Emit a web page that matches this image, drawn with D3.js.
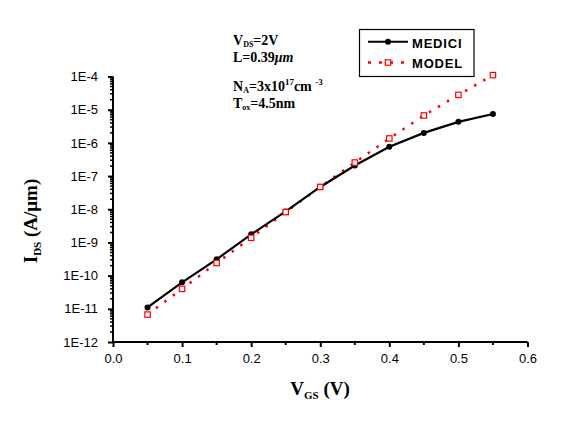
<!DOCTYPE html>
<html><head><meta charset="utf-8">
<script src="https://cdn.jsdelivr.net/npm/d3@7"></script>
<style>body{margin:0;background:#fff}svg{display:block}</style>
</head><body>
<script>
const vgs = [0.05,0.10,0.15,0.20,0.25,0.30,0.35,0.40,0.45,0.50,0.55];
const medici = [1.1e-11,6.3e-11,3.1e-10,1.75e-9,8.6e-9,4.7e-8,2.07e-7,7.6e-7,2.0e-6,4.3e-6,7.4e-6];
const model = [6.7e-12,4.0e-11,2.4e-10,1.38e-9,8.2e-9,4.7e-8,2.56e-7,1.36e-6,6.7e-6,2.8e-5,1.1e-4];
const xTicks = [0,0.1,0.2,0.3,0.4,0.5,0.6];
const yExps = [-12,-11,-10,-9,-8,-7,-6,-5,-4];

const W=567,H=430;
const svg=d3.select("body").append("svg").attr("width",W).attr("height",H);
const x=d3.scaleLinear().domain([0,0.6]).range([113,527.5]);
const y=d3.scaleLog().domain([1e-12,1e-4]).range([342,76.5]);

// axes
const xAxis=d3.axisBottom(x).tickValues(xTicks).tickFormat(d3.format(".1f")).tickSize(5).tickPadding(7);
const gx=svg.append("g").attr("transform","translate(0,342)").call(xAxis);
gx.selectAll(".tick").append("line").attr("y2",0);
// minor x
svg.append("g").selectAll("line").data(d3.range(0.05,0.6,0.1)).join("line")
  .attr("x1",d=>x(d)).attr("x2",d=>x(d)).attr("y1",342).attr("y2",345).attr("stroke","#000").attr("stroke-width",2);

const yAxis=d3.axisLeft(y).tickValues(yExps.map(e=>Math.pow(10,e))).tickFormat(d=>"1E"+Math.round(Math.log10(d))).tickSize(5).tickPadding(10);
const gy=svg.append("g").attr("transform","translate(113,0)").call(yAxis);
// minor y
const minors=[];
yExps.slice(0,-1).forEach(e=>{for(let k=2;k<=9;k++)minors.push(k*Math.pow(10,e));});
svg.append("g").selectAll("line").data(minors).join("line")
  .attr("x1",110).attr("x2",113).attr("y1",d=>y(d)).attr("y2",d=>y(d)).attr("stroke","#000").attr("stroke-width",1.5);

[gx,gy].forEach(g=>{
  g.select(".domain").attr("stroke-width",2).attr("stroke","#000");
  g.selectAll(".tick line").attr("stroke-width",2).attr("stroke","#000");
  g.selectAll(".tick text").attr("font-family","Liberation Sans, Arial, sans-serif").attr("font-size",13).attr("fill","#000");
});
gx.select(".domain").attr("d","M113,0H527.5");
gy.select(".domain").attr("d","M0,76.5V342");

// model dotted line
const pts=vgs.map((v,i)=>({x:v,m:medici[i],o:model[i]}));
svg.append("path").datum(pts).attr("fill","none").attr("stroke","#ff0000").attr("stroke-width",2.5)
  .attr("stroke-dasharray","2.5,8")
  .attr("d",d3.line().x(d=>x(d.x)).y(d=>y(d.o)));
// medici line
svg.append("path").datum(pts).attr("fill","none").attr("stroke","#000").attr("stroke-width",2.2)
  .attr("d",d3.line().x(d=>x(d.x)).y(d=>y(d.m)));
svg.append("g").selectAll("circle").data(pts).join("circle")
  .attr("cx",d=>x(d.x)).attr("cy",d=>y(d.m)).attr("r",3).attr("fill","#000");
svg.append("g").selectAll("rect").data(pts).join("rect")
  .attr("x",d=>x(d.x)-2.7).attr("y",d=>y(d.o)-2.7).attr("width",5.4).attr("height",5.4)
  .attr("fill","#fff").attr("stroke","#ff0000").attr("stroke-width",1.2);

// legend
const lg=svg.append("g");
lg.append("rect").attr("x",359.5).attr("y",29.5).attr("width",114.5).attr("height",47).attr("fill","#fff").attr("stroke","#000").attr("stroke-width",1.2);
lg.append("line").attr("x1",368).attr("x2",408).attr("y1",41.7).attr("y2",41.7).attr("stroke","#000").attr("stroke-width",2);
lg.append("circle").attr("cx",388).attr("cy",41.7).attr("r",3).attr("fill","#000");
lg.append("line").attr("x1",368).attr("x2",408).attr("y1",62.5).attr("y2",62.5).attr("stroke","#ff0000").attr("stroke-width",2.5).attr("stroke-dasharray","3,8");
lg.append("rect").attr("x",385.3).attr("y",59.8).attr("width",5.4).attr("height",5.4).attr("fill","#fff").attr("stroke","#ff0000").attr("stroke-width",1.2);
const lf="Liberation Sans, Arial, sans-serif";
lg.append("text").attr("x",412).attr("y",47.5).attr("font-family",lf).attr("font-weight","bold").attr("font-size",13).attr("letter-spacing",0.8).text("MEDICI");
lg.append("text").attr("x",412).attr("y",68).attr("font-family",lf).attr("font-weight","bold").attr("font-size",13).attr("letter-spacing",0.8).text("MODEL");

// annotations
const tf="Liberation Serif, Times New Roman, serif";
function ann(yy, parts){
  const t=svg.append("text").attr("x",233).attr("y",yy).attr("font-family",tf).attr("font-weight","bold").attr("font-size",14);
  parts.forEach(p=>{
    const s=t.append("tspan").text(p[0]);
    if(p[1]==="sub")s.attr("font-size",8).attr("dy",2);
    else if(p[1]==="sup")s.attr("font-size",9).attr("dy",-6);
    if(p[2])s.attr("dy",p[2]);
  });
}
ann(45,[["V"],["DS","sub"],["=2V",null,-2]]);
ann(62,[["L=0.39"],["μm","it"]]);
svg.selectAll("text tspan").filter(function(){return this.textContent==="μm";}).attr("font-style","italic");
ann(91,[["N"],["A","sub"],["=3x10",null,-2],["17","sup"],["cm ",null,6],["-3","sup"]]);
ann(108,[["T"],["ox","sub"],["=4.5nm",null,-2]]);

// axis titles
const xt=svg.append("text").attr("x",320).attr("y",395).attr("text-anchor","middle").attr("font-family",tf).attr("font-weight","bold").attr("font-size",19);
xt.append("tspan").text("V");
xt.append("tspan").text("GS").attr("font-size",11).attr("dy",4);
xt.append("tspan").text(" (V)").attr("dy",-4);
const yt=svg.append("text").attr("transform","translate(37,221) rotate(-90)").attr("text-anchor","middle").attr("font-family",tf).attr("font-weight","bold").attr("font-size",19);
yt.append("tspan").text("I");
yt.append("tspan").text("DS").attr("font-size",11).attr("dy",4);
yt.append("tspan").text(" (A/μm)").attr("dy",-4);
</script>
</body></html>
